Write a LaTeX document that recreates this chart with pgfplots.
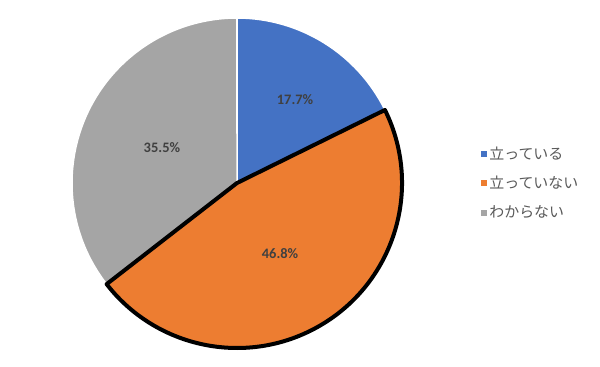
\documentclass[border=0pt]{standalone}
\usepackage{pgfplots}
\usepackage{pgfplotstable}
\usepackage{fontspec}
\pgfplotsset{compat=1.18}
\setmainfont{Carlito}
\newfontfamily\jp{Noto Sans CJK JP}
\definecolor{cblue}{HTML}{4472C4}
\definecolor{corange}{HTML}{ED7D31}
\definecolor{cgray}{HTML}{A5A5A5}
\definecolor{labelc}{HTML}{404040}
\definecolor{legc}{HTML}{595959}

\pgfplotstableread{
share
17.7
46.8
35.5
}\piedata
\pgfplotstablegetelem{0}{share}\of\piedata \let\sA\pgfplotsretval
\pgfplotstablegetelem{1}{share}\of\piedata \let\sB\pgfplotsretval
\pgfplotstablegetelem{2}{share}\of\piedata \let\sC\pgfplotsretval
\pgfmathsetmacro{\aA}{90}
\pgfmathsetmacro{\aB}{90-3.6*\sA}
\pgfmathsetmacro{\aC}{\aB-3.6*\sB}
\pgfmathsetmacro{\aD}{\aC-3.6*\sC}

\begin{document}
\begin{tikzpicture}
\useasboundingbox (-237bp,-184bp) rectangle (363bp,183bp);
\begin{axis}[
  at={(0,0)}, anchor=origin,
  x=165bp, y=165bp,
  xmin=-1, xmax=1, ymin=-1, ymax=1,
  hide axis, clip=false,
  legend image code/.code={\fill[#1, draw=none] (0bp,-3bp) rectangle (6bp,3bp);},
  legend style={draw=none, fill=none, at={(axis cs:1.48,0)}, anchor=west,
    inner sep=0pt, row sep=11.5bp, font=\jp\fontsize{15}{17}\selectfont,
    text=legc, cells={anchor=west},
    /tikz/every even column/.append style={column sep=3bp}},
]
\fill[cblue, draw=white, line width=1.5bp] (axis cs:0,0) -- (axis cs:{cos(\aA)},{sin(\aA)}) arc[start angle=\aA, end angle=\aB, radius=165bp] -- cycle;
\fill[cgray, draw=white, line width=1.5bp] (axis cs:0,0) -- (axis cs:{cos(\aC)},{sin(\aC)}) arc[start angle=\aC, end angle=\aD, radius=165bp] -- cycle;
\filldraw[fill=corange, draw=black, line width=4bp, line join=round] (axis cs:0,0) -- (axis cs:{cos(\aB)},{sin(\aB)}) arc[start angle=\aB, end angle=\aC, radius=165bp] -- cycle;
\node[font=\bfseries\fontsize{14.5}{16}\selectfont, text=labelc] at (axis cs:0.352,0.503) {17.7\%};
\node[font=\bfseries\fontsize{14.5}{16}\selectfont, text=labelc] at (axis cs:0.261,-0.430) {46.8\%};
\node[font=\bfseries\fontsize{14.5}{16}\selectfont, text=labelc] at (axis cs:-0.455,0.212) {35.5\%};
\addlegendimage{fill=cblue}
\addlegendentry{立っている}
\addlegendimage{fill=corange}
\addlegendentry{立っていない}
\addlegendimage{fill=cgray}
\addlegendentry{わからない}
\end{axis}
\end{tikzpicture}
\end{document}
